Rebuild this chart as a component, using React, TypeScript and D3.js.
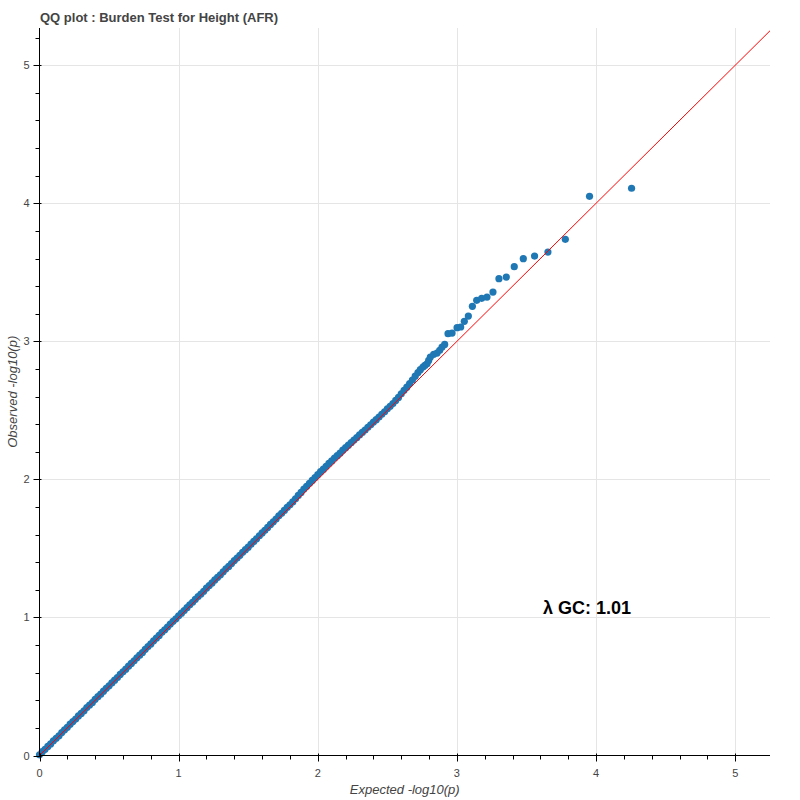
import React from "react";
import * as d3 from "d3";

const TITLE = "QQ plot : Burden Test for Height (AFR)";
const X_LABEL = "Expected -log10(p)";
const Y_LABEL = "Observed -log10(p)";
const LAMBDA_TEXT = "λ GC: 1.01";
const X_TICKS = [0, 1, 2, 3, 4, 5];
const Y_TICKS = [0, 1, 2, 3, 4, 5];

const expected = [
  0.00, 0.02, 0.04, 0.06, 0.08, 0.10, 0.12, 0.14, 0.16, 0.18,
  0.20, 0.22, 0.24, 0.26, 0.28, 0.30, 0.32, 0.34, 0.36, 0.38,
  0.40, 0.42, 0.44, 0.46, 0.48, 0.50, 0.52, 0.54, 0.56, 0.58,
  0.60, 0.62, 0.64, 0.66, 0.68, 0.70, 0.72, 0.74, 0.76, 0.78,
  0.80, 0.82, 0.84, 0.86, 0.88, 0.90, 0.92, 0.94, 0.96, 0.98,
  1.00, 1.02, 1.04, 1.06, 1.08, 1.10, 1.12, 1.14, 1.16, 1.18,
  1.20, 1.22, 1.24, 1.26, 1.28, 1.30, 1.32, 1.34, 1.36, 1.38,
  1.40, 1.42, 1.44, 1.46, 1.48, 1.50, 1.52, 1.54, 1.56, 1.58,
  1.60, 1.62, 1.64, 1.66, 1.68, 1.70, 1.72, 1.74, 1.76, 1.78,
  1.80, 1.82, 1.84, 1.86, 1.88, 1.90, 1.92, 1.94, 1.96, 1.98,
  2.00, 2.02, 2.04, 2.06, 2.08, 2.10, 2.12, 2.14, 2.16, 2.18,
  2.20, 2.22, 2.24, 2.26, 2.28, 2.30, 2.32, 2.34, 2.36, 2.38,
  2.40, 2.42, 2.44, 2.46, 2.48, 2.50, 2.52, 2.54, 2.56, 2.58,
  2.60, 2.62, 2.64, 2.66, 2.68, 2.70, 2.72,
  2.737, 2.756, 2.770, 2.785, 2.797, 2.809, 2.833, 2.857, 2.876, 2.893,
  2.912, 2.936, 2.965, 3.001, 3.027, 3.053, 3.082, 3.111, 3.142, 3.178,
  3.216, 3.259, 3.302, 3.355, 3.412, 3.477, 3.558, 3.654, 3.779, 3.953,
  4.255,
];

const observed = [
  0.005, 0.028, 0.045, 0.066, 0.084, 0.107, 0.125, 0.143, 0.166, 0.186,
  0.204, 0.227, 0.246, 0.264, 0.287, 0.305, 0.324, 0.347, 0.366, 0.384,
  0.407, 0.426, 0.444, 0.466, 0.487, 0.505, 0.526, 0.546, 0.565, 0.587,
  0.606, 0.625, 0.647, 0.667, 0.686, 0.708, 0.727, 0.746, 0.769, 0.789,
  0.808, 0.831, 0.850, 0.870, 0.892, 0.911, 0.930, 0.952, 0.972, 0.990,
  1.012, 1.031, 1.050, 1.071, 1.092, 1.110, 1.131, 1.151, 1.170, 1.190,
  1.212, 1.231, 1.250, 1.272, 1.291, 1.309, 1.331, 1.352, 1.370, 1.391,
  1.412, 1.430, 1.450, 1.472, 1.491, 1.509, 1.531, 1.551, 1.570, 1.592,
  1.612, 1.631, 1.652, 1.674, 1.693, 1.713, 1.736, 1.754, 1.775, 1.797,
  1.816, 1.837, 1.860, 1.884, 1.906, 1.930, 1.950, 1.972, 1.993, 2.014,
  2.035, 2.056, 2.074, 2.095, 2.116, 2.134, 2.155, 2.172, 2.190, 2.212,
  2.230, 2.248, 2.266, 2.285, 2.302, 2.322, 2.340, 2.358, 2.378, 2.396,
  2.415, 2.433, 2.452, 2.472, 2.490, 2.511, 2.530, 2.549, 2.572, 2.594,
  2.620, 2.645, 2.668, 2.694, 2.720, 2.748, 2.774,
  2.795, 2.814, 2.826, 2.838, 2.862, 2.886, 2.906, 2.915, 2.935, 2.959,
  2.978, 3.056, 3.060, 3.099, 3.104, 3.145, 3.183, 3.254, 3.297, 3.312,
  3.321, 3.357, 3.454, 3.466, 3.541, 3.599, 3.618, 3.647, 3.739, 4.051,
  4.109,
];

const X_DOMAIN = [0, 5.25];
const Y_DOMAIN = [0, 5.27];

const W = 800;
const H = 800;
const LEFT = 39.5;
const RIGHT = 770;
const TOP = 28;
const BOTTOM = 755.5;

const FONT = "'Liberation Sans', Arial, Helvetica, sans-serif";

export default function App() {
  const x = d3.scaleLinear().domain(X_DOMAIN).range([LEFT, RIGHT]);
  const y = d3.scaleLinear().domain(Y_DOMAIN).range([BOTTOM, TOP]);

  const minorX = d3.range(0, 26).map((i) => i * 0.2).filter((v) => v <= X_DOMAIN[1] && Math.abs(v - Math.round(v)) > 1e-6);
  const minorY = d3.range(0, 27).map((i) => i * 0.2).filter((v) => v <= Y_DOMAIN[1] && Math.abs(v - Math.round(v)) > 1e-6);

  const points = expected.map((e, i) => [e, observed[i]]);
  const lineEnd = Math.min(X_DOMAIN[1], Y_DOMAIN[1]);

  return (
    <svg
      width={W}
      height={H}
      style={{ position: "absolute", left: 0, top: 0, background: "#fff" }}
      fontFamily={FONT}
    >
      <rect x={0} y={0} width={W} height={H} fill="#fff" />
      {/* grid */}
      {X_TICKS.filter((t) => t > 0).map((t) => (
        <line key={"gx" + t} x1={Math.round(x(t)) + 0.5} x2={Math.round(x(t)) + 0.5} y1={TOP} y2={BOTTOM} stroke="#e5e5e5" strokeWidth={1} />
      ))}
      {Y_TICKS.filter((t) => t > 0).map((t) => (
        <line key={"gy" + t} x1={LEFT} x2={RIGHT} y1={Math.round(y(t)) + 0.5} y2={Math.round(y(t)) + 0.5} stroke="#e5e5e5" strokeWidth={1} />
      ))}

      {/* points */}
      {points.map(([e, o], i) => (
        <circle key={i} cx={x(e)} cy={y(o)} r={3.6} fill="#1f77b4" />
      ))}
      <line x1={x(0)} y1={y(0)} x2={x(lineEnd)} y2={y(lineEnd)} stroke="#ff0000" strokeWidth={1} />

      {/* axes */}
      <line x1={LEFT} x2={LEFT} y1={TOP} y2={BOTTOM} stroke="#000" strokeWidth={1} />
      <line x1={LEFT} x2={RIGHT} y1={BOTTOM} y2={BOTTOM} stroke="#000" strokeWidth={1} />
      {X_TICKS.map((t) => (
        <g key={"xt" + t}>
          <line x1={Math.round(x(t)) + 0.5} x2={Math.round(x(t)) + 0.5} y1={BOTTOM - 2} y2={BOTTOM + 6} stroke="#000" />
          <text x={x(t)} y={BOTTOM + 21} textAnchor="middle" fontSize={11} fill="#444">{t}</text>
        </g>
      ))}
      {minorX.map((t) => (
        <line key={"mx" + t} x1={Math.round(x(t)) + 0.5} x2={Math.round(x(t)) + 0.5} y1={BOTTOM} y2={BOTTOM + 4} stroke="#000" />
      ))}
      {Y_TICKS.map((t) => (
        <g key={"yt" + t}>
          <line x1={LEFT + 2} x2={LEFT - 6} y1={Math.round(y(t)) + 0.5} y2={Math.round(y(t)) + 0.5} stroke="#000" />
          <text x={LEFT - 10} y={y(t) + 4} textAnchor="end" fontSize={11} fill="#444">{t}</text>
        </g>
      ))}
      {minorY.map((t) => (
        <line key={"my" + t} x1={LEFT} x2={LEFT - 4} y1={Math.round(y(t)) + 0.5} y2={Math.round(y(t)) + 0.5} stroke="#000" />
      ))}

      {/* axis labels */}
      <text x={(LEFT + RIGHT) / 2} y={794} textAnchor="middle" fontSize={13} fontStyle="italic" fill="#444">{X_LABEL}</text>
      <text transform={`translate(17, ${(TOP + BOTTOM) / 2}) rotate(-90)`} textAnchor="middle" fontSize={13} fontStyle="italic" fill="#444">{Y_LABEL}</text>

      {/* title */}
      <text x={40} y={22} fontSize={13} fontWeight="bold" fill="#444">{TITLE}</text>

      {/* lambda */}
      <text x={543} y={614} fontSize={18} fontWeight="bold" fill="#000">{LAMBDA_TEXT}</text>
    </svg>
  );
}
